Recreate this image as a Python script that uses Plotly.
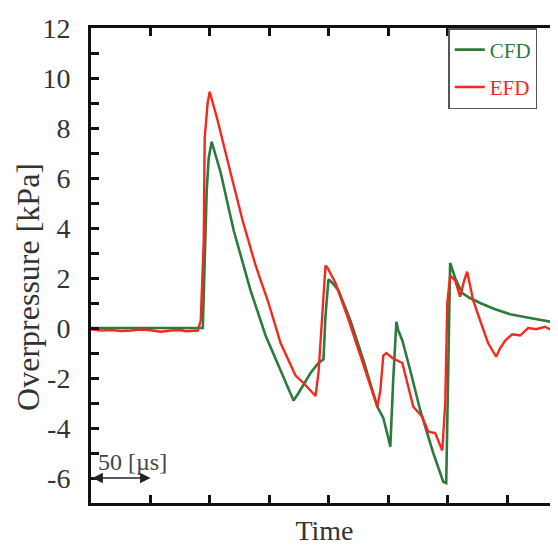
import plotly.graph_objects as go

# Time in microseconds, overpressure in kPa
cfd_t = [0, 89.8, 94.0, 97.3, 99.0, 101.5, 104.0, 109.1, 120.0, 134.2, 146.8, 159.4, 170.3, 174.5,
         184.6, 191.3, 195.5, 197.2, 199.7, 203.0, 208.1, 218.1, 229.1, 240.8, 245.8, 250.0, 251.7,
         254.2, 256.8, 258.4, 261.8, 268.5, 276.9, 287.8, 293.6, 296.2, 298.7, 300.4, 302.0, 306.2,
         312.1, 318.8, 327.2, 339.8, 352.4, 369.2, 381.8, 395.0]
cfd_p = [0.0, 0.0, 0.0, 5.5, 6.8, 7.45, 7.0, 6.2, 3.9, 1.5, -0.3, -1.7, -2.9, -2.6,
         -1.8, -1.4, -1.25, 0.5, 1.95, 1.8, 1.5, 0.3, -1.3, -3.15, -3.6, -4.4, -4.75,
         -2.0, 0.25, -0.1, -0.5, -1.7, -3.3, -5.0, -5.8, -6.15, -6.2, -1.0, 2.6, 2.0,
         1.4, 1.2, 1.0, 0.75, 0.55, 0.4, 0.3, 0.18]

efd_t = [0, 8.4, 16.8, 25.2, 33.6, 42.0, 50.3, 58.7, 67.1, 75.5, 79.7, 86.0, 89.8, 92.3, 94.8,
         95.6, 98.1, 99.8, 102.3, 106.5, 117.4, 127.5, 138.4, 149.3, 159.4, 172.0, 178.7, 184.6,
         188.8, 191.3, 194.7, 197.2, 198.9, 205.6, 215.7, 228.3, 240.8, 243.3, 245.8, 248.4,
         253.4, 261.8, 271.0, 278.5, 283.6, 289.4, 295.4, 297.9, 299.6, 302.0, 306.2, 310.4,
         313.8, 316.3, 318.8, 321.4, 327.2, 333.9, 340.7, 344.1, 348.3, 354.2, 360.9, 367.6,
         374.3, 381.8, 387.6, 395.0]
efd_p = [-0.05, -0.1, -0.08, -0.12, -0.1, -0.06, -0.09, -0.15, -0.1, -0.08, -0.13, -0.1, -0.1, 0.3, 3.5,
         7.6, 9.0, 9.45, 9.0, 8.3, 6.2, 4.3, 2.5, 1.0, -0.6, -1.9, -2.2, -2.5,
         -2.72, -1.8, 0.85, 2.5, 2.4, 1.8, 0.45, -1.4, -3.15, -2.5, -1.1, -1.0,
         -1.2, -1.4, -3.15, -3.55, -4.15, -4.2, -4.9, -3.0, 1.0, 2.1, 1.9, 1.25,
         1.9, 2.25, 1.7, 1.1, 0.3, -0.6, -1.15, -0.8, -0.5, -0.25, -0.3, 0.0,
         -0.05, 0.05, -0.1, 0.05]

y_tickvals = [-6, -4, -2, 0, 2, 4, 6, 8, 10, 12]
y_ticktext = ["-6", "-4", "-2", "0", "2", "4", "6", "8", "10", "12"]

GREEN = "#2e7a3c"
RED = "#f5281e"
SERIF = "Liberation Serif"

fig = go.Figure()
fig.add_trace(go.Scatter(x=cfd_t, y=cfd_p, mode="lines", line=dict(color=GREEN, width=2.6),
                         name=f"<span style='color:{GREEN}'>CFD</span>", legendgroup="a"))
fig.add_trace(go.Scatter(x=efd_t, y=efd_p, mode="lines", line=dict(color=RED, width=2.4),
                         name=f"<span style='color:{RED}'>EFD</span>", legendgroup="b"))

fig.update_layout(
    width=550, height=542,
    margin=dict(l=83, r=0, t=20, b=47, autoexpand=False),
    plot_bgcolor="white", paper_bgcolor="white",
    font=dict(family=SERIF, color="#333"),
    showlegend=True,
    legend=dict(x=0.765, y=1, xanchor="left", yanchor="top",
                bordercolor="#555", borderwidth=1.5, bgcolor="white",
                font=dict(family=SERIF, size=21), tracegroupgap=7,
                traceorder="grouped"),
    xaxis=dict(range=[0, 392.7], dtick=50, tick0=0, showticklabels=False,
               ticks="inside", ticklen=8, tickwidth=2.5, tickcolor="#111",
               showline=True, linewidth=3, linecolor="#111", mirror="ticks",
               showgrid=False, zeroline=False, automargin=False,
               title=dict(text="Time", font=dict(family=SERIF, size=28, color="#333"), standoff=16)),
    yaxis=dict(range=[-7, 12], tickmode="array", tickvals=y_tickvals, ticktext=y_ticktext,
               ticks="inside", ticklen=8, tickwidth=2.5, tickcolor="#111",
               minor=dict(dtick=1, tick0=0, ticks="inside", ticklen=8, tickwidth=2.5, tickcolor="#111"),
               showline=True, linewidth=3, linecolor="#111", mirror=False,
               showgrid=False, zeroline=False, ticklabelstandoff=12, automargin=False,
               tickfont=dict(family=SERIF, size=28, color="#333")),
    yaxis2=dict(range=[-7, 12], dtick=1, overlaying="y", side="right", showline=False,
                ticks="inside", ticklen=3, tickwidth=2.5, tickcolor="#555", automargin=False,
                showticklabels=False, showgrid=False, zeroline=False),
)

# y-axis title (placed explicitly to match the reference position)
fig.add_annotation(x=0, xref="paper", xshift=-63, y=0.455, yref="paper",
                   text="Overpressure [kPa]", textangle=-90, showarrow=False,
                   xanchor="center", yanchor="middle",
                   font=dict(family=SERIF, size=32, color="#333"))

fig.add_annotation(x=50, y=-6, ax=0, ay=-6, xref="x", yref="y", axref="x", ayref="y",
                   text="", showarrow=True, arrowhead=2, arrowside="end+start",
                   arrowsize=1.3, arrowwidth=1.6, arrowcolor="#222")
fig.add_annotation(x=4, y=-5.35, xref="x", yref="y", text="50 [µs]", showarrow=False,
                   xanchor="left", yanchor="middle",
                   font=dict(family=SERIF, size=24, color="#444"))

fig.write_html("out.html")
